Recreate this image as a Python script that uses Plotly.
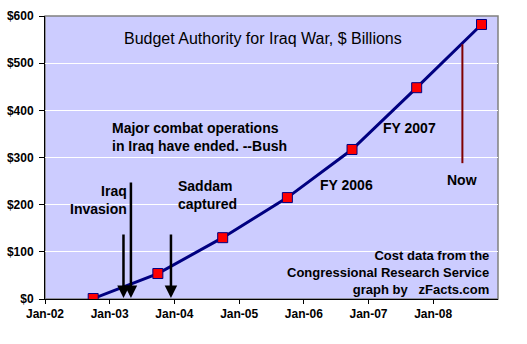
import plotly.graph_objects as go

# Cumulative budget authority at each fiscal-year end ($ billions)
fy_dates = ["2002-09-30", "2003-09-30", "2004-09-30", "2005-09-30",
            "2006-09-30", "2007-09-30", "2008-09-30"]
cumulative_billions = [1, 54, 130, 215, 317, 448, 582]

# Key events marked with downward arrows
event_dates = ["2003-03-20", "2003-05-01", "2003-12-13"]
event_arrow_tops = [140, 250, 140]

# "Now" marker line
now_date = "2008-06-14"
now_line_span = [288, 540]

year_ticks = ["2002-01-01", "2003-01-01", "2004-01-01", "2005-01-01",
              "2006-01-01", "2007-01-01", "2008-01-01"]
year_labels = ["Jan-02", "Jan-03", "Jan-04", "Jan-05", "Jan-06", "Jan-07", "Jan-08"]
dollar_ticks = [0, 100, 200, 300, 400, 500, 600]
dollar_labels = ["$0", "$100", "$200", "$300", "$400", "$500", "$600"]

FONT = "Arial, Liberation Sans, sans-serif"
NAVY = "#000080"

fig = go.Figure()

fig.add_trace(go.Scatter(
    x=fy_dates, y=cumulative_billions, mode="lines+markers",
    line=dict(color=NAVY, width=3),
    marker=dict(symbol="square", size=10, color="#ff0000",
                line=dict(color=NAVY, width=1)),
    hoverinfo="skip", showlegend=False,
))

shapes = [
    # plot-area frame (top/right edges show in gray)
    dict(type="rect", xref="paper", yref="paper", x0=0, x1=1, y0=0, y1=1,
         line=dict(color="#808080", width=1.5), layer="below"),
    dict(type="line", xref="x", yref="y", x0=now_date, x1=now_date,
         y0=now_line_span[0], y1=now_line_span[1],
         line=dict(color="#800000", width=2)),
]

annotations = [
    dict(text="Budget Authority for Iraq War, $ Billions", xref="paper", yref="paper",
         x=0.481, y=0.919, xanchor="center", yanchor="middle", showarrow=False,
         font=dict(family=FONT, size=16, color="black")),
    dict(text="<b>Major combat operations<br>in Iraq have ended. --Bush</b>",
         xref="x", yref="y", x="2003-01-03", y=343, xanchor="left", yanchor="middle",
         align="left", showarrow=False, font=dict(family=FONT, size=14, color="black")),
    dict(text="<b>Iraq<br>Invasion</b>", xref="x", yref="y", x="2003-04-22", y=209,
         xanchor="right", yanchor="middle", align="right", showarrow=False,
         font=dict(family=FONT, size=14, color="black")),
    dict(text="<b>Saddam<br>captured</b>", xref="x", yref="y", x="2004-01-10", y=221,
         xanchor="left", yanchor="middle", align="left", showarrow=False,
         font=dict(family=FONT, size=14, color="black")),
    dict(text="<b>FY 2006</b>", xref="x", yref="y", x="2006-08-27", y=241,
         xanchor="center", yanchor="middle", showarrow=False,
         font=dict(family=FONT, size=14, color="black")),
    dict(text="<b>FY 2007</b>", xref="x", yref="y", x="2007-08-21", y=362,
         xanchor="center", yanchor="middle", showarrow=False,
         font=dict(family=FONT, size=14, color="black")),
    dict(text="<b>Now</b>", xref="x", yref="y", x="2008-06-14", y=253,
         xanchor="center", yanchor="middle", showarrow=False,
         font=dict(family=FONT, size=14, color="black")),
    dict(text="<b>Cost data from the<br>Congressional Research Service<br>graph by   zFacts.com</b>",
         xref="x", yref="y", x="2008-11-24", y=57, xanchor="right", yanchor="middle",
         align="right", showarrow=False, font=dict(family=FONT, size=13, color="black")),
]

for d, top in zip(event_dates, event_arrow_tops):
    annotations.append(dict(
        text="", xref="x", yref="y", x=d, y=0, axref="x", ayref="y", ax=d, ay=top,
        showarrow=True, arrowhead=2, arrowsize=1, arrowwidth=2.5, arrowcolor="black",
        standoff=1,
    ))

fig.update_layout(
    width=527, height=344,
    margin=dict(l=45, r=29, t=16, b=45),
    paper_bgcolor="white", plot_bgcolor="#ccccff",
    shapes=shapes, annotations=annotations,
    font=dict(family=FONT, color="black"),
    xaxis=dict(
        range=["2002-01-01", "2009-01-01"], tickvals=year_ticks,
        ticktext=[f"<b>{t}</b>" for t in year_labels], automargin=False,
        showgrid=False, zeroline=False, showline=True, linecolor="black", linewidth=1,
        ticks="outside", ticklen=4, tickcolor="black",
        tickfont=dict(family=FONT, size=12, color="black"),
    ),
    yaxis=dict(
        range=[0, 600], tickvals=dollar_ticks,
        ticktext=[f"<b>{t}</b>" for t in dollar_labels], automargin=False,
        showgrid=True, gridcolor="white", gridwidth=1, zeroline=False,
        showline=True, linecolor="black", linewidth=1,
        ticks="outside", ticklen=5, tickcolor="black", ticklabelstandoff=3,
        tickfont=dict(family=FONT, size=12, color="black"),
    ),
)

fig.write_html("out.html")
